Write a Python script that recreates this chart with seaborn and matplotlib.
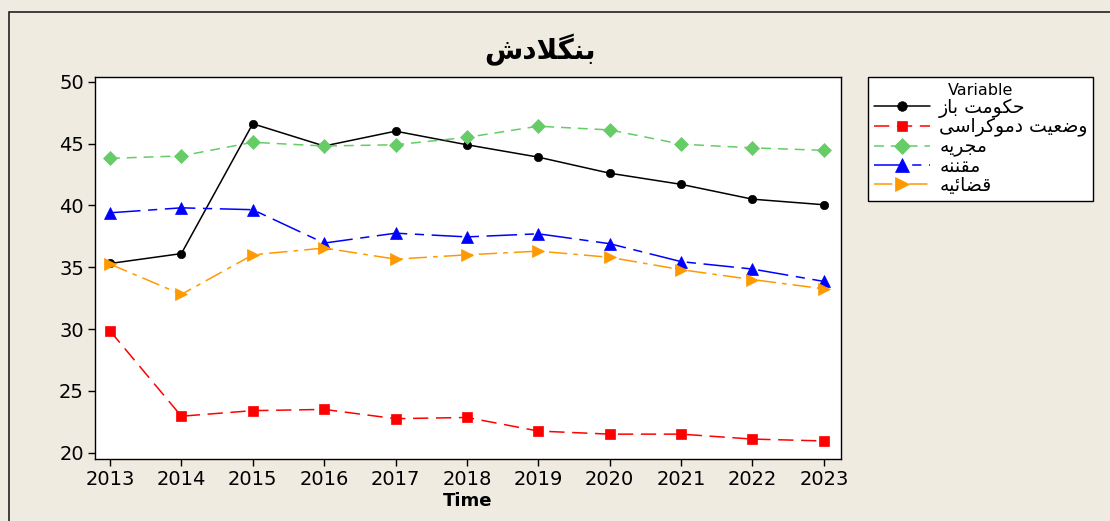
import matplotlib
matplotlib.use("Agg")
import matplotlib.pyplot as plt
import seaborn as sns
import pandas as pd
from matplotlib.patches import Rectangle

# ---------------- data ----------------
years = [2013, 2014, 2015, 2016, 2017, 2018, 2019, 2020, 2021, 2022, 2023]
open_gov = [35.3, 36.1, 46.6, 44.8, 46.0, 44.9, 43.9, 42.6, 41.7, 40.5, 40.05]      # حکومت باز
democracy = [29.85, 22.95, 23.4, 23.5, 22.75, 22.85, 21.75, 21.5, 21.5, 21.1, 20.95]  # وضعیت دموکراسی
executive = [43.8, 44.0, 45.1, 44.8, 44.9, 45.5, 46.4, 46.1, 44.95, 44.65, 44.45]     # مجریه
legislature = [39.4, 39.8, 39.65, 36.95, 37.75, 37.45, 37.7, 36.9, 35.45, 34.85, 33.85]  # مقننه
judiciary = [35.25, 32.8, 36.0, 36.55, 35.65, 36.0, 36.3, 35.8, 34.8, 34.0, 33.25]   # قضائیه

series_names = ["حکومت باز", "وضعیت دموکراسی", "مجریه", "مقننه", "قضائیه"]
title_text = "بنگلادش"
x_label = "Time"
legend_title = "Variable"
y_ticks = [20, 25, 30, 35, 40, 45, 50]

# ---------------- minimal Arabic/Persian shaping ----------------
FORMS = {
    "\u0627": (0xFE8D, 0xFE8E, None, None),
    "\u0628": (0xFE8F, 0xFE90, 0xFE91, 0xFE92),
    "\u062A": (0xFE95, 0xFE96, 0xFE97, 0xFE98),
    "\u062C": (0xFE9D, 0xFE9E, 0xFE9F, 0xFEA0),
    "\u062D": (0xFEA1, 0xFEA2, 0xFEA3, 0xFEA4),
    "\u062F": (0xFEA9, 0xFEAA, None, None),
    "\u0631": (0xFEAD, 0xFEAE, None, None),
    "\u0632": (0xFEAF, 0xFEB0, None, None),
    "\u0633": (0xFEB1, 0xFEB2, 0xFEB3, 0xFEB4),
    "\u0634": (0xFEB5, 0xFEB6, 0xFEB7, 0xFEB8),
    "\u0636": (0xFEBD, 0xFEBE, 0xFEBF, 0xFEC0),
    "\u0639": (0xFEC9, 0xFECA, 0xFECB, 0xFECC),
    "\u0642": (0xFED5, 0xFED6, 0xFED7, 0xFED8),
    "\u0644": (0xFEDD, 0xFEDE, 0xFEDF, 0xFEE0),
    "\u0645": (0xFEE1, 0xFEE2, 0xFEE3, 0xFEE4),
    "\u0646": (0xFEE5, 0xFEE6, 0xFEE7, 0xFEE8),
    "\u0647": (0xFEE9, 0xFEEA, 0xFEEB, 0xFEEC),
    "\u0648": (0xFEED, 0xFEEE, None, None),
    "\u0626": (0xFE89, 0xFE8A, 0xFE8B, 0xFE8C),
    "\u06A9": (0xFB8E, 0xFB8F, 0xFB90, 0xFB91),
    "\u06AF": (0xFB92, 0xFB93, 0xFB94, 0xFB95),
    "\u06CC": (0xFBFC, 0xFBFD, 0xFBFE, 0xFBFF),
}
LAM_ALEF = (0xFEFB, 0xFEFC)


def shape(text):
    chars = []
    i = 0
    while i < len(text):
        if text[i] == "\u0644" and i + 1 < len(text) and text[i + 1] == "\u0627":
            chars.append("LA")
            i += 2
        else:
            chars.append(text[i])
            i += 1

    def dual(c):
        if c == "LA":
            return False
        return c in FORMS and FORMS[c][2] is not None

    def arabic(c):
        return c == "LA" or c in FORMS

    out = []
    for k, c in enumerate(chars):
        if not arabic(c):
            out.append(c)
            continue
        prev = chars[k - 1] if k > 0 else None
        nxt = chars[k + 1] if k + 1 < len(chars) else None
        jp = prev is not None and dual(prev)
        jn = dual(c) and nxt is not None and arabic(nxt)
        if c == "LA":
            out.append(chr(LAM_ALEF[1] if jp else LAM_ALEF[0]))
            continue
        iso, fin, ini, med = FORMS[c]
        if jp and jn:
            out.append(chr(med))
        elif jp:
            out.append(chr(fin))
        elif jn:
            out.append(chr(ini))
        else:
            out.append(chr(iso))
    return "".join(out)[::-1]


# ---------------- plot ----------------
sns.set_theme(style="ticks")
plt.rcParams["font.family"] = ["DejaVu Sans"]
plt.rcParams["text.color"] = "black"
plt.rcParams["axes.labelcolor"] = "black"
plt.rcParams["xtick.color"] = "black"
plt.rcParams["ytick.color"] = "black"

bg = "#EFEBE1"
fig = plt.figure(figsize=(11.10, 5.21), dpi=100, facecolor=bg)
ax = fig.add_axes([95 / 1110, 1 - 459 / 521, (841 - 95) / 1110, (459 - 77) / 521])
ax.set_facecolor("white")

styles = [
    dict(color="#000000", marker="o", ms=6, ls="-"),
    dict(color="#FF0000", marker="s", ms=6.5, ls=(0, (10, 5))),
    dict(color="#66CC66", marker="D", ms=7, ls=(0, (6.5, 4.5))),
    dict(color="#0000FF", marker="^", ms=9, ls=(0, (20, 5, 6, 5))),
    dict(color="#FF9900", marker=">", ms=9, ls=(0, (12, 4, 3, 4))),
]
all_values = [open_gov, democracy, executive, legislature, judiciary]

for name, vals, st in zip(series_names, all_values, styles):
    df = pd.DataFrame({"Year": years, "Value": vals})
    sns.lineplot(
        data=df, x="Year", y="Value", ax=ax,
        color=st["color"], marker=st["marker"], markersize=st["ms"],
        linestyle=st["ls"], linewidth=1.1,
        markeredgecolor=st["color"], markeredgewidth=0.5,
        label=shape(name),
    )

ax.set_xlim(2012.79, 2023.24)
ax.set_ylim(19.49, 50.38)
ax.set_xticks(years)
ax.set_xticklabels([str(y) for y in years])
ax.set_yticks(y_ticks)
ax.tick_params(axis="both", direction="out", length=5, width=1, labelsize=14,
               color="black", labelcolor="black", pad=3)
for s in ax.spines.values():
    s.set_visible(True)
    s.set_color("black")
    s.set_linewidth(1.0)
ax.set_xlabel(x_label, fontsize=13, fontweight="bold", labelpad=2, color="black")
ax.set_ylabel("")

ax.get_legend().remove()
handles, labels = ax.get_legend_handles_labels()
leg = fig.legend(
    handles, labels, title=legend_title, loc="upper left",
    bbox_to_anchor=(868 / 1110, 1 - 77 / 521), borderaxespad=0,
    fontsize=13.5, title_fontsize=11.5,
    frameon=True, fancybox=False, edgecolor="black", facecolor="white",
    framealpha=1, handlelength=3.0, handletextpad=0.5, labelspacing=0.0,
    borderpad=0.3, markerscale=1.15,
)
leg.get_frame().set_linewidth(1.0)
leg.get_title().set_color("black")
for t in leg.get_texts():
    t.set_color("black")

fig.text(540 / 1110, 1 - 50 / 521, shape(title_text), ha="center", va="center",
         fontsize=20, fontweight="bold", color="black")

# outer frame
fig.patches.append(Rectangle((9 / 1110, -0.1), 1.2, 1 - 12 / 521 + 0.1,
                             transform=fig.transFigure, fill=False,
                             edgecolor="#222222", linewidth=1.2))

fig.savefig("out.png", dpi=100, facecolor=bg)
